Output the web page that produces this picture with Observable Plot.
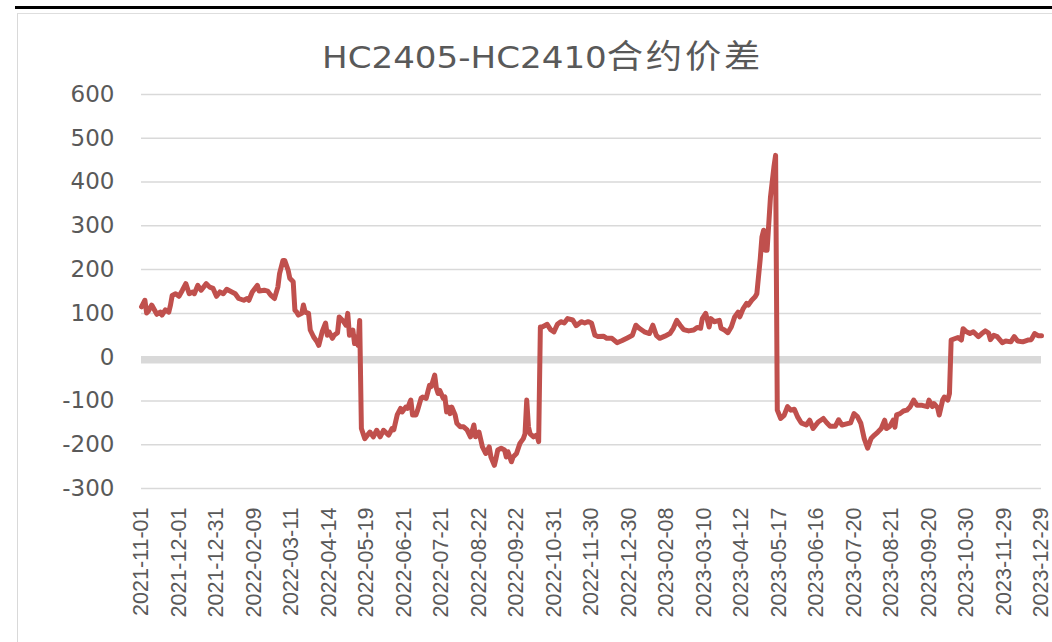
<!DOCTYPE html>
<html>
<head>
<meta charset="utf-8">
<script src="https://cdn.jsdelivr.net/npm/d3@7"></script>
<script src="https://cdn.jsdelivr.net/npm/@observablehq/plot@0.6"></script>
<style>
  html, body { margin: 0; padding: 0; background: #fff; }
  #wrap { position: relative; width: 1052px; height: 642px; overflow: hidden; background: #fff; }
  #topline { position: absolute; left: 15px; top: 6px; width: 1037px; height: 2.5px; background: #000; }
  #frame { position: absolute; left: 17px; top: 13px; width: 1100px; height: 700px;
           border-left: 1.5px solid #d9d9d9; border-top: 1px solid #dedede; }
  #chart { position: absolute; left: 0; top: 0; }
  #title { position: absolute; left: 322px; top: 39px; white-space: nowrap;
           font-family: "DejaVu Sans", sans-serif; font-size: 31px; line-height: 31px;
           color: #595959; transform: scaleX(1.1); transform-origin: left top; }
  #title .cjk { font-family: "Noto Sans CJK SC", sans-serif; font-size: 33px; letter-spacing: 2.5px; }
</style>
</head>
<body>
<div id="wrap">
  <div id="topline"></div>
  <div id="frame"></div>
  <div id="chart"></div>
  <div id="title">HC2405-HC2410<span class="cjk">合约价差</span></div>
</div>
<script>
// Trading-day index (0 = 2021-11-01) and spread values
const dayIndex = [0,2,3,4,6,9,11,12,14,16,17,18,20,22,24,26,28,30,31,33,35,38,40,42,44,46,48,50,53,55,57,60,62,63,65,68,69,72,74,76,78,80,81,83,84,86,87,89,90,91,92,94,95,96,98,99,101,103,104,106,108,109,110,112,113,115,116,118,120,121,122,124,125,126,127,128,129,131,134,136,138,140,142,145,147,148,150,152,153,155,156,158,159,161,162,164,165,167,168,169,170,172,173,174,175,177,178,179,180,181,182,184,185,187,189,191,193,195,196,198,200,202,204,205,207,208,209,211,213,214,215,217,218,220,222,224,225,226,227,228,230,232,233,234,235,237,238,240,242,244,246,248,250,253,255,258,260,262,264,266,268,271,273,276,279,282,285,288,290,292,295,298,300,302,304,307,310,312,314,316,318,321,324,326,328,329,331,333,334,336,339,340,342,344,346,348,350,351,353,355,356,358,360,361,363,364,365,366,367,368,369,371,372,373,375,377,379,381,383,385,387,390,392,394,397,400,402,404,407,409,411,413,416,418,420,422,424,426,428,430,432,434,436,437,439,441,442,443,445,447,449,451,453,455,458,461,462,464,465,467,468,470,471,473,474,475,477,479,481,482,484,486,488,491,493,495,497,498,500,502,505,507,510,512,514,517,520,522,524,526,528];
const spread = [115,130,101,105,119,98,103,96,108,103,119,141,145,139,153,168,145,149,145,164,153,168,160,157,139,149,145,155,149,145,134,130,134,130,149,164,151,153,151,141,134,160,191,221,221,199,180,172,107,103,96,100,119,103,100,62,46,35,27,58,78,50,58,43,50,56,92,84,73,100,50,62,31,46,27,84,-163,-186,-171,-182,-167,-182,-167,-178,-163,-166,-132,-117,-125,-114,-117,-98,-132,-132,-121,-94,-91,-94,-79,-64,-67,-41,-71,-83,-76,-94,-91,-125,-114,-129,-114,-132,-151,-159,-159,-166,-182,-155,-182,-171,-205,-220,-205,-228,-247,-231,-212,-208,-212,-228,-216,-239,-228,-220,-197,-186,-175,-98,-159,-175,-182,-178,-193,69,69,73,75,63,58,75,81,78,88,85,72,81,78,81,78,50,47,48,43,43,33,38,44,50,73,66,58,54,73,50,43,48,54,66,84,73,63,60,62,68,66,88,100,69,88,81,84,66,62,56,69,92,103,92,111,123,119,130,138,145,225,275,290,244,244,305,366,434,461,-121,-140,-133,-113,-121,-119,-137,-150,-155,-144,-163,-148,-140,-150,-158,-158,-143,-155,-153,-150,-129,-136,-151,-186,-208,-186,-178,-171,-163,-144,-163,-158,-144,-160,-132,-129,-123,-121,-113,-98,-110,-110,-113,-98,-113,-106,-115,-132,-98,-91,-98,-83,39,42,45,39,65,58,54,58,47,54,60,55,40,50,47,33,37,35,47,37,35,39,40,54,49,49];

// Category-axis labels (every 22 trading days)
const tickDates = ["2021-11-01","2021-12-01","2021-12-31","2022-02-09","2022-03-11","2022-04-14","2022-05-19","2022-06-21","2022-07-21","2022-08-22","2022-09-22","2022-10-31","2022-11-30","2022-12-30","2023-02-08","2023-03-10","2023-04-12","2023-05-17","2023-06-16","2023-07-20","2023-08-21","2023-09-20","2023-10-30","2023-11-29","2023-12-29"];
const tickStep = 22;
const yTicks = [-300,-200,-100,0,100,200,300,400,500,600];

const data = dayIndex.map((d, k) => ({i: d, v: spread[k]}));
const xTicks = tickDates.map((_, k) => k * tickStep);

const chart = Plot.plot({
  width: 1052,
  height: 642,
  marginLeft: 141,
  marginRight: 11,
  marginTop: 94,
  marginBottom: 154,
  style: {background: "transparent", fontFamily: "DejaVu Sans", color: "#595959"},
  x: {type: "linear", domain: [0, (tickDates.length - 1) * tickStep]},
  y: {domain: [-300, 600]},
  marks: [
    Plot.gridY(yTicks, {stroke: "#d9d9d9", strokeOpacity: 1, strokeWidth: 1.5}),
    Plot.ruleY([0], {stroke: "#d9d9d9", strokeWidth: 7.5, dy: 2.7}),
    Plot.lineY(data, {x: "i", y: "v", stroke: "#C0504D", strokeWidth: 5, strokeLinejoin: "round", strokeLinecap: "round"}),
    Plot.axisY(yTicks, {tickSize: 0, tickPadding: 27, fontSize: 23, fill: "#595959", label: null,
      tickFormat: d => String(d)}),
    Plot.axisX(xTicks, {tickSize: 0, tickPadding: 19, tickRotate: -90, fontSize: 21.5,
      fontFamily: "Liberation Sans", fill: "#595959", label: null,
      tickFormat: d => tickDates[Math.round(d / tickStep)]})
  ]
});
document.getElementById("chart").appendChild(chart);
</script>
</body>
</html>
